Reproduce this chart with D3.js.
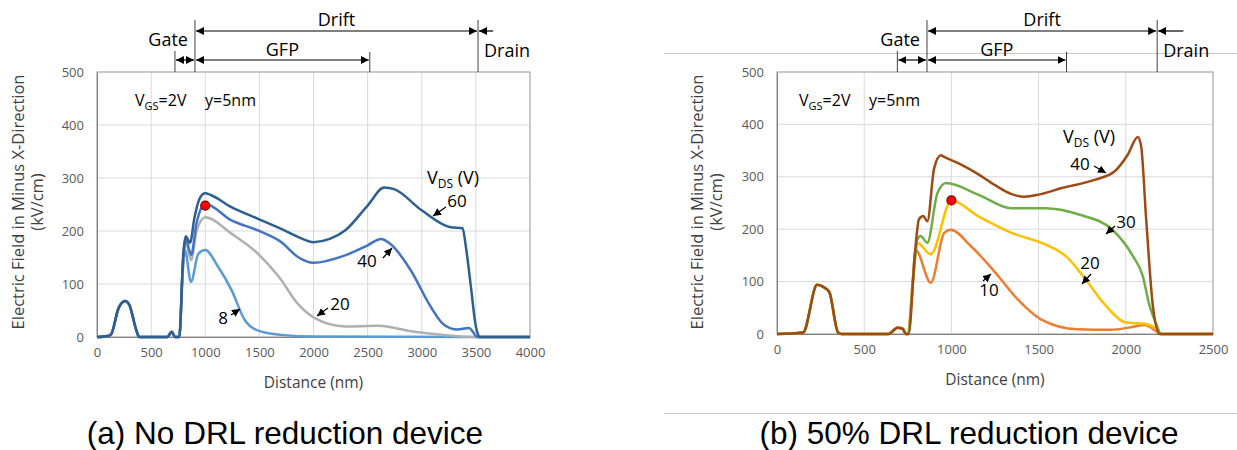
<!DOCTYPE html>
<html>
<head>
<meta charset="utf-8">
<script src="https://cdn.jsdelivr.net/npm/d3@7"></script>
<style>
  body { margin: 0; background: #fff; }
  svg text { font-family: "Open Sans", "Liberation Sans", sans-serif; }
</style>
</head>
<body>
<div id="chart"></div>
<script>
// Data, gelesen aus dem Bild

// (a) keine DRL Reduktion, x in nm, y in kV/cm
const baseA = [[0,0],[100,2],[130,5],[200,55],[260,68],[300,60],[360,15],[390,0],[650,0],[690,10],[720,0],[750,0]];
const v60 = [[760,0],[797,157],[819,190],[860,178],[900,225],[950,262],[1000,271],[1050,268],[1242,245],[1488,223],[1702,204],[1856,189],[2000,179],[2150,185],[2291,201],[2500,248],[2653,282],[2745,279],[3000,239],[3267,207],[3377,205],[3408,170],[3454,95],[3500,20],[3540,0],[4000,0]];
const v40 = [[760,0],[797,150],[819,185],[870,155],[920,215],[1000,251],[1242,220],[1488,201],[1702,179],[1856,151],[2000,140],[2291,154],[2500,173],[2622,185],[2714,175],[2898,126],[3083,57],[3206,23],[3328,14],[3435,17],[3518,0],[4000,0]];
const v20 = [[760,0],[797,140],[819,180],[870,145],[920,200],[1000,226],[1242,195],[1488,157],[1678,114],[1862,61],[2000,37],[2291,20],[2600,21],[2898,11],[3206,4],[3500,0],[4000,0]];
const v8 = [[760,0],[790,120],[813,164],[868,104],[936,157],[1000,164],[1120,132],[1242,89],[1365,32],[1488,12],[1702,4],[2000,1],[3500,0],[4000,0]];

// (b) 50% DRL Reduktion
const baseB = [[0,0],[150,3],[230,94],[270,89],[300,80],[350,3],[370,0],[640,0],[690,12],[720,10],[740,0],[750,0]];
const v40b = [[755,0],[790,150],[814,219],[839,225],[862,215],[901,316],[940,341],[958,338],[1050,324],[1153,305],[1250,284],[1345,267],[1420,262],[1500,266],[1628,278],[1820,294],[1935,310],[2011,342],[2069,376],[2088,358],[2117,218],[2155,54],[2194,0],[2500,0]];
const v30 = [[750,0],[785,120],[804,180],[824,187],[862,174],[920,269],[969,288],[1153,266],[1345,240],[1538,240],[1732,228],[1923,199],[2040,149],[2097,111],[2136,54],[2175,19],[2203,0],[2500,0]];
const v20b = [[750,0],[785,120],[804,174],[882,152],[1000,255],[1153,225],[1345,193],[1538,171],[1655,149],[1770,104],[1885,54],[2000,22],[2115,19],[2175,9],[2200,0],[2500,0]];
const v10 = [[750,0],[780,110],[794,161],[882,98],[959,193],[996,199],[1111,168],[1245,120],[1380,66],[1513,28],[1724,9],[1916,8],[2031,13],[2107,17],[2184,3],[2200,0],[2500,0]];

const xTicksA = [0,500,1000,1500,2000,2500,3000,3500,4000];
const xTicksB = [0,500,1000,1500,2000,2500];
const yTicks = [0,100,200,300,400,500];

// Bereichsgrenzen: Gate-Anfang, Drift-Anfang, GFP-Ende, Drain, Pfeilende
const regionsA = [720, 905, 2520, 3520, 3660];
const regionsB = [690, 860, 1660, 2180, 2330];

const W = 1237, H = 450;
const svg = d3.select("#chart").append("svg").attr("width", W).attr("height", H);

const defs = svg.append("defs");
defs.append("marker").attr("id", "ah").attr("viewBox", "0 0 10 10")
  .attr("refX", 10).attr("refY", 5).attr("markerWidth", 8).attr("markerHeight", 8)
  .attr("markerUnits", "userSpaceOnUse").attr("orient", "auto-start-reverse")
  .append("path").attr("d", "M0,0L10,5L0,10Z").attr("fill", "#000");

// Rahmen um das rechte Bild
svg.append("line").attr("x1", 664).attr("x2", W).attr("y1", 53.5).attr("y2", 53.5).attr("stroke", "#c8c8c8");
svg.append("line").attr("x1", 664).attr("x2", W).attr("y1", 413.5).attr("y2", 413.5).attr("stroke", "#c8c8c8");

function drawPanel(p) {
  const x = d3.scaleLinear().domain([0, p.xMax]).range([p.x0, p.x1]);
  const y = d3.scaleLinear().domain([0, 500]).range([p.y0, p.y1]);
  const g = svg.append("g");

  // Gitter
  g.selectAll(".vg").data(p.xTicks).enter().append("line")
    .attr("x1", d => x(d)).attr("x2", d => x(d)).attr("y1", p.y0).attr("y2", p.y1)
    .attr("stroke", "#d9d9d9");
  g.selectAll(".hg").data(yTicks).enter().append("line")
    .attr("x1", p.x0).attr("x2", p.x1).attr("y1", d => y(d)).attr("y2", d => y(d))
    .attr("stroke", "#d9d9d9");
  g.append("rect").attr("x", p.x0).attr("y", p.y1).attr("width", p.x1 - p.x0).attr("height", p.y0 - p.y1)
    .attr("fill", "none").attr("stroke", "#a6a6a6");

  // Achsen
  const ax = g.append("g").attr("transform", "translate(0," + p.y0 + ")")
    .call(d3.axisBottom(x).tickValues(p.xTicks).tickFormat(d3.format("d")).tickSize(0).tickPadding(11));
  const ay = g.append("g").attr("transform", "translate(" + p.x0 + ",0)")
    .call(d3.axisLeft(y).tickValues(yTicks).tickSize(0).tickPadding(13));
  [ax, ay].forEach(a => {
    a.select(".domain").attr("stroke", "#808080");
    a.selectAll("text").attr("fill", "#595959").style("font-size", "13px");
  });

  g.append("text").attr("x", (p.x0 + p.x1) / 2).attr("y", p.y0 + 51).attr("text-anchor", "middle")
    .attr("fill", "#404040").style("font-size", "15.5px").text("Distance (nm)");
  const ty = g.append("text").attr("transform", "translate(" + p.tx + "," + 202 + ") rotate(-90)")
    .attr("text-anchor", "middle").attr("fill", "#404040").style("font-size", "16.5px");
  ty.append("tspan").attr("x", 0).attr("dy", 0).text("Electric Field in Minus X-Direction");
  ty.append("tspan").attr("x", 0).attr("dy", 19).text("(kV/cm)");

  // Kurven
  const line = d3.line().x(d => x(d[0])).y(d => y(d[1])).curve(d3.curveMonotoneX);
  p.series.forEach(s => {
    g.append("path").datum(p.base.concat(s.data)).attr("d", line)
      .attr("fill", "none").attr("stroke", s.color).attr("stroke-width", 2.5);
  });

  g.append("circle").attr("cx", x(p.dot[0])).attr("cy", y(p.dot[1])).attr("r", 4.5)
    .attr("fill", "#ff0000").attr("stroke", "#7f0000").attr("stroke-width", 1.2);

  // Beschriftungen der Kurven
  p.labels.forEach(l => {
    g.append("text").attr("x", l.tx).attr("y", l.ty).attr("text-anchor", "middle")
      .attr("dominant-baseline", "middle").style("font-size", "17px").attr("fill", "#000").text(l.t);
    g.append("line").attr("x1", l.a[0]).attr("y1", l.a[1]).attr("x2", l.a[2]).attr("y2", l.a[3])
      .attr("stroke", "#000").attr("stroke-width", 1.3).attr("marker-end", "url(#ah)");
  });
  const vds = g.append("text").attr("x", p.vds[0]).attr("y", p.vds[1]).style("font-size", "18px").attr("fill", "#000");
  vds.append("tspan").text("V");
  vds.append("tspan").attr("dy", 4).style("font-size", "12px").text("DS");
  vds.append("tspan").attr("dy", -4).text(" (V)");

  const vgs = g.append("text").attr("x", p.vgs).attr("y", 106).style("font-size", "16px").attr("fill", "#000");
  vgs.append("tspan").text("V");
  vgs.append("tspan").attr("dy", 4).style("font-size", "11px").text("GS");
  vgs.append("tspan").attr("dy", -4).text("=2V");
  g.append("text").attr("x", p.vgs + 70).attr("y", 106).style("font-size", "16px").attr("fill", "#000").text("y=5nm");

  // Bereiche oben (Gate, GFP, Drift, Drain)
  const r = p.regions.map(v => x(v));
  const vl = (xx, ya) => g.append("line").attr("x1", xx).attr("x2", xx).attr("y1", ya).attr("y2", p.y1)
    .attr("stroke", "#404040").attr("stroke-width", 1);
  vl(r[0], 51); vl(r[1], 20); vl(r[2], 52); vl(r[3], 20);
  const arr = (xa, xb, yy, both) => {
    const l = g.append("line").attr("x1", xa).attr("x2", xb).attr("y1", yy).attr("y2", yy)
      .attr("stroke", "#000").attr("stroke-width", 1.2).attr("marker-end", "url(#ah)");
    if (both) l.attr("marker-start", "url(#ah)");
  };
  arr(r[0] + 1, r[1] - 1, 60, true);
  arr(r[1] + 1, r[2] - 1, 60, true);
  arr(r[1] + 1, r[3] - 1, 31, true);
  arr(r[4], r[3] + 1, 31, false);

  const txt = (xx, yy, t, anchor) => g.append("text").attr("x", xx).attr("y", yy).attr("text-anchor", anchor || "middle")
    .style("font-size", "18px").attr("fill", "#000").text(t);
  txt(r[1] - 7, 46, "Gate", "end");
  txt((r[1] + r[2]) / 2, 56, "GFP");
  txt((r[1] + r[3]) / 2, 26, "Drift");
  txt(r[3] + 6, 57, "Drain", "start");

  svg.append("text").attr("x", p.cap[0]).attr("y", p.cap[1]).attr("text-anchor", "middle")
    .style("font-family", "'Liberation Sans', Arial, sans-serif").style("font-size", "31.5px").attr("fill", "#000").text(p.caption);
}

drawPanel({
  x0: 97, x1: 530, y0: 337, y1: 72, xMax: 4000, xTicks: xTicksA, tx: 24,
  base: baseA,
  series: [
    { data: v8, color: "#5b9bd5" },
    { data: v20, color: "#b0b0b0" },
    { data: v40, color: "#4472c4" },
    { data: v60, color: "#2f5f8f" }
  ],
  dot: [1000, 248],
  labels: [
    { t: "60", tx: 457, ty: 202, a: [446, 207, 433, 216] },
    { t: "40", tx: 367, ty: 262, a: [383, 258, 392, 248] },
    { t: "20", tx: 340, ty: 305, a: [328, 308, 317, 316] },
    { t: "8", tx: 223, ty: 319, a: [231, 315, 240, 309] }
  ],
  vds: [427, 184],
  vgs: 135,
  regions: regionsA,
  cap: [285, 444], caption: "(a) No DRL reduction device"
});

drawPanel({
  x0: 777, x1: 1213, y0: 334, y1: 72, xMax: 2500, xTicks: xTicksB, tx: 703,
  base: baseB,
  series: [
    { data: v10, color: "#ed7d31" },
    { data: v20b, color: "#ffc000" },
    { data: v30, color: "#70ad47" },
    { data: v40b, color: "#9e4a14" }
  ],
  dot: [1000, 255],
  labels: [
    { t: "40", tx: 1080, ty: 165, a: [1094, 166, 1106, 173] },
    { t: "30", tx: 1126, ty: 223, a: [1115, 226, 1106, 234] },
    { t: "20", tx: 1090, ty: 264, a: [1091, 274, 1082, 284] },
    { t: "10", tx: 989, ty: 291, a: [983, 281, 991, 274] }
  ],
  vds: [1063, 143],
  vgs: 799,
  regions: regionsB,
  cap: [969, 444], caption: "(b) 50% DRL reduction device"
});
</script>
</body>
</html>
